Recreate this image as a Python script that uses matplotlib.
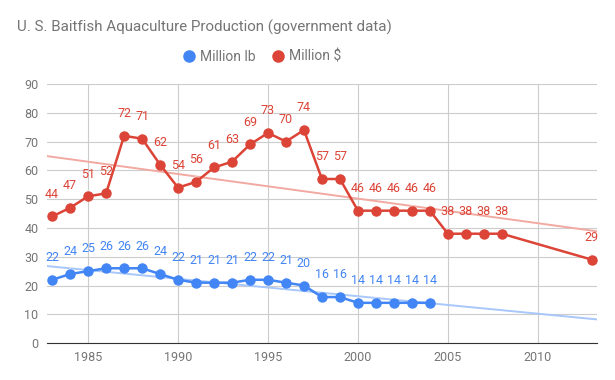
import numpy as np
import matplotlib.pyplot as plt

plt.rcParams['font.family'] = ['Roboto', 'DejaVu Sans']

years_usd = [1983, 1984, 1985, 1986, 1987, 1988, 1989, 1990, 1991, 1992, 1993, 1994,
             1995, 1996, 1997, 1998, 1999, 2000, 2001, 2002, 2003, 2004, 2005, 2006,
             2007, 2008, 2013]
million_usd = [44, 47, 51, 52, 72, 71, 62, 54, 56, 61, 63, 69,
               73, 70, 74, 57, 57, 46, 46, 46, 46, 46, 38, 38,
               38, 38, 29]
years_lb = list(range(1983, 2005))
million_lb = [22, 24, 25, 26, 26, 26, 24, 22, 21, 21, 21, 22,
              22, 21, 20, 16, 16, 14, 14, 14, 14, 14]

blue = '#4285F4'
red = '#DB4437'
grey = '#757575'

fig = plt.figure(figsize=(6.15, 3.8), dpi=100)
ax = fig.add_axes([0.076, 0.097, 0.895, 0.682])
xlim = (1982.7, 2013.3)

for xs, ys, col, tcol, name in [(years_lb, million_lb, blue, '#a8c7fa', 'Million lb'),
                               (years_usd, million_usd, red, '#f2a9a1', 'Million $')]:
    # linear trendline over the whole x range
    k, b = np.polyfit(xs, ys, 1)
    tx = np.array(xlim)
    ax.plot(tx, k * tx + b, color=tcol, lw=1.4, zorder=2)
    ax.plot(xs, ys, color=col, lw=1.8, marker='o', ms=6.5, label=name, zorder=4)
    for x, y in zip(xs, ys):
        ax.annotate(str(y), (x, y), xytext=(0, 16), textcoords='offset points',
                    ha='center', va='center', color=col, fontsize=9,
                    arrowprops=dict(arrowstyle='-', color='#eeeeee', lw=0.8,
                                    shrinkA=5, shrinkB=0), zorder=3)

ax.set_xlim(*xlim)
ax.set_ylim(0, 90)
ax.set_yticks(range(0, 91, 10))
ax.set_xticks(range(1985, 2011, 5))
ax.grid(True, color='#cccccc', lw=0.8)
ax.set_axisbelow(True)
for s in ['top', 'right', 'left']:
    ax.spines[s].set_visible(False)
ax.spines['bottom'].set_color('#333333')
ax.tick_params(length=0, colors=grey, labelsize=9, pad=6)

fig.text(0.028, 0.928, 'U. S. Baitfish Aquaculture Production (government data)',
         fontsize=10.9, color=grey, va='center')
leg = fig.legend(loc='center', bbox_to_anchor=(0.428, 0.85), ncol=2, frameon=False,
                 handlelength=0.6, handletextpad=0.5, columnspacing=1.3,
                 labelcolor=grey, fontsize=10)
for h in leg.legend_handles:
    h.set_linestyle('none')
    h.set_markersize(8)

fig.savefig('out.png', dpi=100)
